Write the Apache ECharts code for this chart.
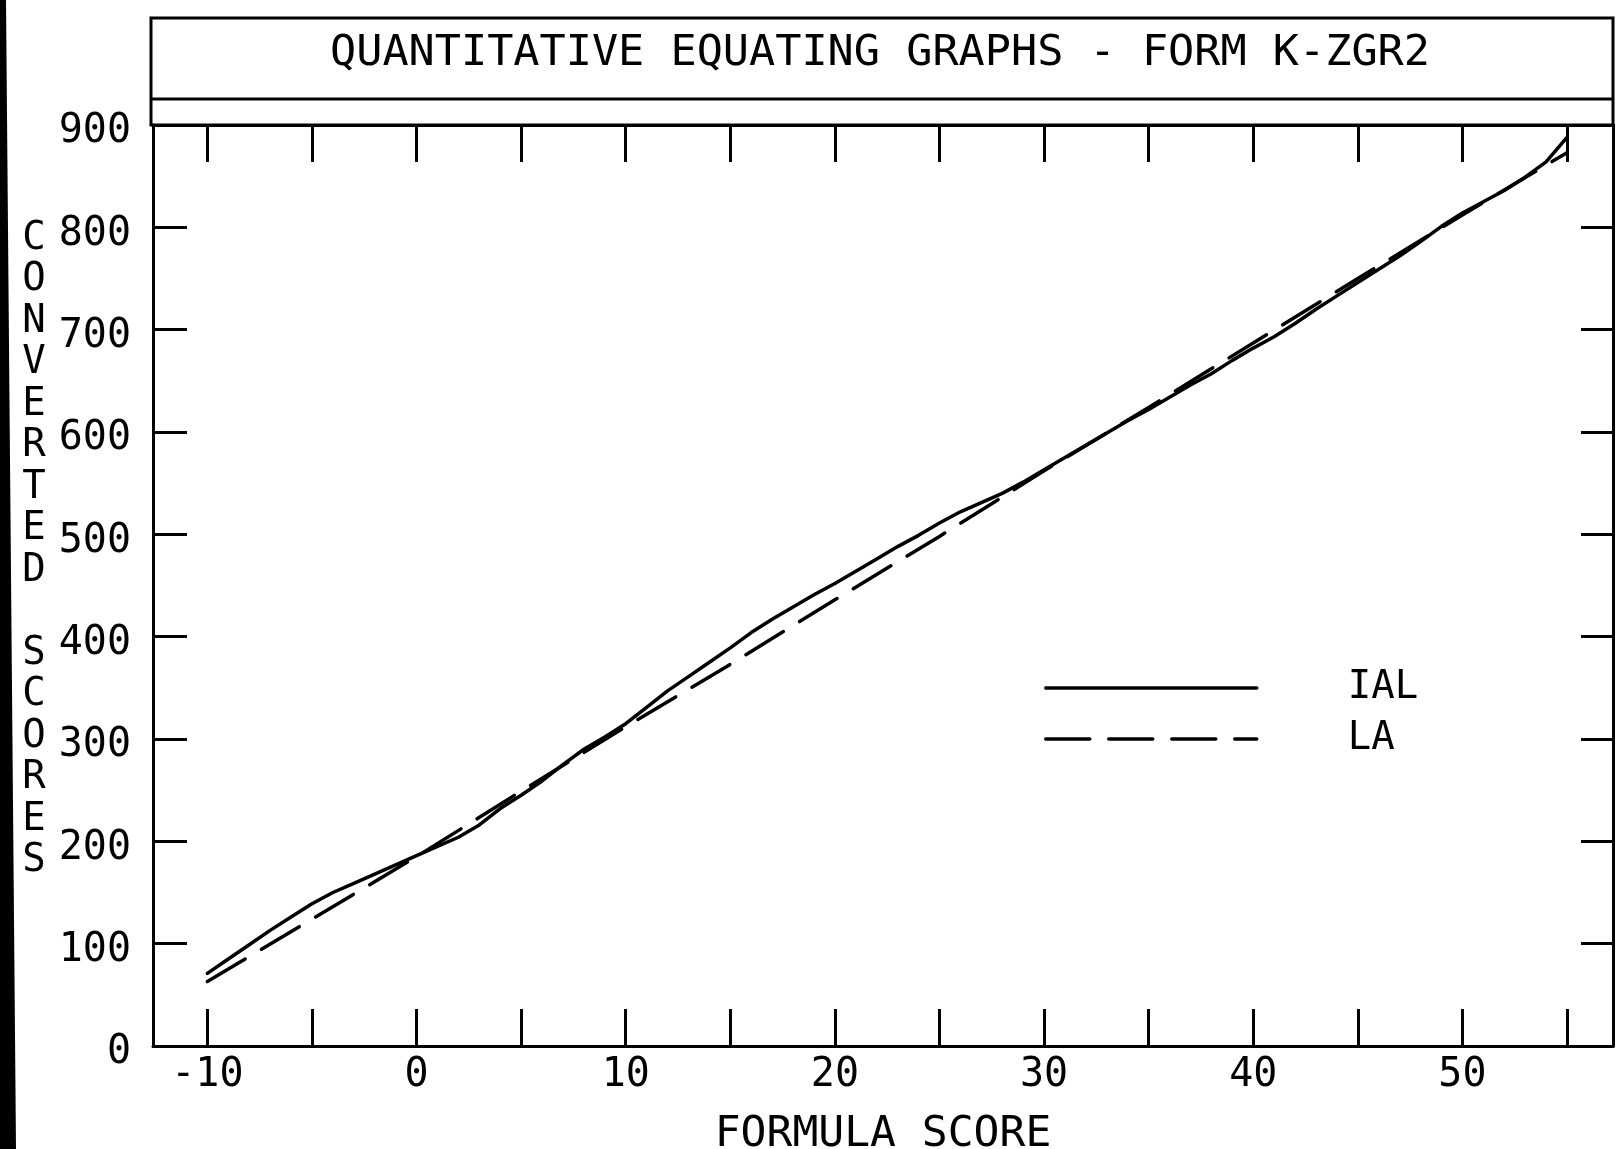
<!DOCTYPE html>
<html>
<head>
<meta charset="utf-8">
<script src="https://cdn.jsdelivr.net/npm/echarts@6/dist/echarts.min.js"></script>
<style>
html,body{margin:0;padding:0;background:#fff;}
#chart{width:1616px;height:1149px;}
</style>
</head>
<body>
<div id="chart"></div>
<script>
// ---- data ----
const ialScores = [-10,-9,-8,-7,-6,-5,-4,-3,-2,-1,0,1,2,3,4,5,6,7,8,9,10,11,12,13,14,15,16,17,18,19,20,21,22,23,24,25,26,27,28,29,30,31,32,33,34,35,36,37,38,39,40,41,42,43,44,45,46,47,48,49,50,51,52,53,54,55];
const ialValues = [71,85,99,113,126,139,150,159,168,177,186,195,204,216,232,245,259,275,290,302,315,331,347,361,375,389,404,417,429,441,452,464,476,488,499,511,522,531,540,551,563,575,587,599,611,622,634,646,657,670,682,693,706,720,733,746,759,772,786,801,814,825,836,849,864,888];
const laScores = [-10,-5,0,5,10,15,20,25,30,35,40,45,50,55];
const laValues = [63,124,185,249,312,373,436,498,562,624,687,750,812,873];
const xTicks = [-10,-5,0,5,10,15,20,25,30,35,40,45,50,55];
const xTickLabels = [-10,0,10,20,30,40,50];
const yTicks = [0,100,200,300,400,500,600,700,800,900];
const titleText = 'QUANTITATIVE EQUATING GRAPHS - FORM K-ZGR2';
const xName = 'FORMULA SCORE';
const yName = 'CONVERTED SCORES';
const seriesNames = ['IAL','LA'];

const pair = (xs, ys) => xs.map((x, i) => [x, ys[i]]);
const FONT = '"DejaVu Sans Mono", monospace';
const INK = '#000';

const chart = echarts.init(document.getElementById('chart'), null, {renderer: 'canvas'});

const baseX = {
  type: 'value', min: -12.6, max: 57.2,
  axisLine: {show: true, onZero: false, lineStyle: {color: INK, width: 3}},
  axisTick: {show: true, inside: true, length: 37, customValues: xTicks, lineStyle: {color: INK, width: 3}},
  splitLine: {show: false}
};
const baseY = {
  type: 'value', min: 0, max: 900, interval: 100,
  axisLine: {show: true, onZero: false, lineStyle: {color: INK, width: 3}},
  axisTick: {show: true, inside: true, length: 34, lineStyle: {color: INK, width: 3}},
  splitLine: {show: false}
};

chart.setOption({
  backgroundColor: '#fff',
  animation: false,
  grid: {left: 153, right: 3, top: 125, bottom: 103, containLabel: false, outerBoundsMode: 'none'},
  xAxis: [
    Object.assign({}, baseX, {
      position: 'bottom',
      name: xName, nameLocation: 'middle', nameGap: 67,
      nameTextStyle: {fontFamily: FONT, fontSize: 43, color: INK},
      axisLabel: {show: true, customValues: xTickLabels, margin: 10,
        fontFamily: FONT, fontSize: 40, color: INK}
    }),
    Object.assign({}, baseX, {position: 'top', axisLabel: {show: false}})
  ],
  yAxis: [
    Object.assign({}, baseY, {
      position: 'left',
      axisLabel: {show: true, margin: 22, fontFamily: FONT, fontSize: 40, color: INK,
        customValues: yTicks, verticalAlign: 'top', lineHeight: 14}
    }),
    Object.assign({}, baseY, {position: 'right', axisTick: {show: true, inside: true, length: 32, lineStyle: {color: INK, width: 3}}, axisLabel: {show: false}})
  ],
  legend: {
    orient: 'vertical', left: 1039, top: 663,
    itemWidth: 211, itemHeight: 14, itemGap: 11,
    data: seriesNames,
    itemStyle: {opacity: 0},
    lineStyle: {width: 3.5},
    textStyle: {fontFamily: FONT, fontSize: 39, color: INK, lineHeight: 40, padding: [0, 0, 0, 86]}
  },
  graphic: [
    {type: 'polygon', shape: {points: [[0,0],[6,0],[16,1149],[0,1149]]}, style: {fill: '#000'}, silent: true},
    {type: 'rect', shape: {x: 151, y: 18, width: 1462, height: 107}, style: {fill: 'none', stroke: INK, lineWidth: 3}, silent: true},
    {type: 'line', shape: {x1: 151, y1: 99, x2: 1613, y2: 99}, style: {stroke: INK, lineWidth: 3}, silent: true},
    {type: 'text', x: 880, y: 54, style: {text: titleText, fontFamily: FONT, fontSize: 43.5, fill: INK, textAlign: 'center', textVerticalAlign: 'middle'}, silent: true},
    {type: 'text', x: 34, y: 218, style: {text: yName.split('').join('\n'), fontFamily: FONT, fontSize: 39, lineHeight: 41.5, fill: INK, textAlign: 'center', textVerticalAlign: 'top'}, silent: true}
  ],
  series: [
    {
      name: seriesNames[0], type: 'line', xAxisIndex: 0, yAxisIndex: 0,
      data: pair(ialScores, ialValues), showSymbol: false, symbol: 'none', smooth: false,
      lineStyle: {color: INK, width: 3.5, type: 'solid', cap: 'round', join: 'round'},
      itemStyle: {color: INK}
    },
    {
      name: seriesNames[1], type: 'line', xAxisIndex: 0, yAxisIndex: 0,
      data: pair(laScores, laValues), showSymbol: false, symbol: 'none', smooth: false,
      lineStyle: {color: INK, width: 3.5, type: [44, 19], cap: 'round', join: 'round'},
      itemStyle: {color: INK}
    }
  ]
});
</script>
</body>
</html>
